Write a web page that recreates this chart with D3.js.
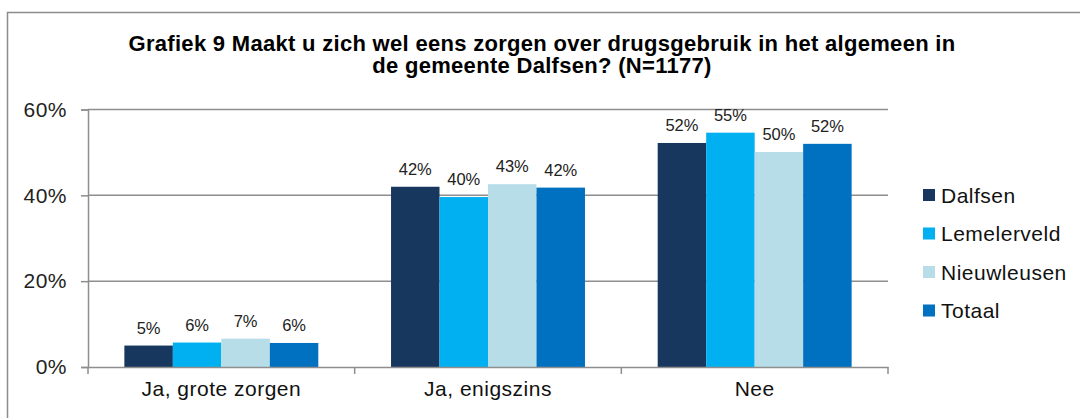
<!DOCTYPE html>
<html>
<head>
<meta charset="utf-8">
<script src="https://cdn.jsdelivr.net/npm/d3@7"></script>
<style>
  body { margin: 0; background: #fff; }
  svg { display: block; font-family: "Liberation Sans", Arial, sans-serif; }
</style>
</head>
<body>
<svg id="chart" width="1080" height="418"></svg>
<script>
// data
var titleLines = ["Grafiek 9 Maakt u zich wel eens zorgen over drugsgebruik in het algemeen in",
                  "de gemeente Dalfsen? (N=1177)"];
var categories = ["Ja, grote zorgen", "Ja, enigszins", "Nee"];
var seriesNames = ["Dalfsen", "Lemelerveld", "Nieuwleusen", "Totaal"];
var dalfsen = [5.0, 42.0, 52.2];
var lemelerveld = [5.7, 39.6, 54.6];
var nieuwleusen = [6.6, 42.6, 50.1];
var totaal = [5.6, 41.8, 52.0];
var yTicks = [0, 20, 40, 60];
var colors = ["#17375E", "#00B0F0", "#B7DEE8", "#0070C0"];

var seriesValues = [dalfsen, lemelerveld, nieuwleusen, totaal];

var svg = d3.select("#chart");

// outer frame
svg.append("rect")
	.attr("x", 7.5).attr("y", 12.5)
	.attr("width", 1100).attr("height", 420)
	.attr("fill", "none")
	.attr("stroke", "#8c8c8c")
	.attr("stroke-width", 1.5);

var plotLeft = 88, plotRight = 888, plotTop = 109.5, plotBottom = 367;

var x0 = d3.scaleBand().domain(categories).range([plotLeft, plotRight]);
var bw = x0.bandwidth();
var barW = bw / 5.5;
var x1 = d3.scaleBand().domain(seriesNames).range([barW * 0.75, bw - barW * 0.75]);
var y = d3.scaleLinear().domain([0, 60]).range([plotBottom, plotTop]);

// title
svg.append("g").selectAll("text")
	.data(titleLines)
	.enter().append("text")
	.attr("x", 542)
	.attr("y", function(d, i){ return 50.5 + i * 22; })
	.attr("text-anchor", "middle")
	.attr("font-size", 22)
	.attr("letter-spacing", 0.3)
	.attr("font-weight", "bold")
	.attr("fill", "#000")
	.text(function(d){ return d; });

// gridlines
svg.append("g").selectAll("line")
	.data(yTicks.filter(function(d){ return d > 0; }))
	.enter().append("line")
	.attr("x1", plotLeft).attr("x2", plotRight)
	.attr("y1", function(d){ return y(d); })
	.attr("y2", function(d){ return y(d); })
	.attr("stroke", "#8e8e8e")
	.attr("stroke-width", 1.5);

// bars
var groups = svg.append("g").selectAll("g")
	.data(seriesNames)
	.enter().append("g")
	.attr("fill", function(d, i){ return colors[i]; });

function rows(s, i){
	return categories.map(function(c, j){ return {series: s, cat: c, value: seriesValues[i][j]}; });
}

groups.selectAll("rect")
	.data(rows)
	.enter().append("rect")
	.attr("x", function(d){ return x0(d.cat) + x1(d.series); })
	.attr("y", function(d){ return y(d.value); })
	.attr("width", x1.bandwidth())
	.attr("height", function(d){ return y(0) - y(d.value); });

groups.selectAll("text")
	.data(rows)
	.enter().append("text")
	.attr("x", function(d){ return x0(d.cat) + x1(d.series) + x1.bandwidth() / 2; })
	.attr("y", function(d){ return y(d.value) - 12; })
	.attr("text-anchor", "middle")
	.attr("font-size", 16.5)
	.attr("fill", "#222")
	.text(function(d){ return Math.round(d.value) + "%"; });

// y axis
var yAxis = svg.append("g")
	.attr("transform", "translate(" + plotLeft + ",0)")
	.call(d3.axisLeft(y).tickValues(yTicks).tickSize(7).tickPadding(14)
		.tickFormat(function(d){ return d + "%"; }));
yAxis.select(".domain").attr("stroke", "#8e8e8e").attr("stroke-width", 1.5);
yAxis.selectAll(".tick line").attr("stroke", "#8e8e8e").attr("stroke-width", 1.5);
yAxis.selectAll(".tick text")
	.attr("font-size", 21)
	.attr("letter-spacing", 0.5)
	.attr("font-family", "Liberation Sans, Arial, sans-serif")
	.attr("fill", "#222");

// x axis
var xAxis = svg.append("g")
	.attr("transform", "translate(0," + plotBottom + ")")
	.call(d3.axisBottom(x0).tickSize(0).tickPadding(14));
xAxis.select(".domain").attr("stroke", "#8e8e8e").attr("stroke-width", 1.5);
xAxis.selectAll(".tick text")
	.attr("font-size", 21)
	.attr("letter-spacing", 0.5)
	.attr("font-family", "Liberation Sans, Arial, sans-serif")
	.attr("fill", "#111");
// category boundary ticks
xAxis.selectAll("line.sep")
	.data(categories.map(function(c){ return x0(c); }).concat([plotRight]))
	.enter().append("line")
	.attr("class", "sep")
	.attr("x1", function(d){ return d; }).attr("x2", function(d){ return d; })
	.attr("y1", 0).attr("y2", 7)
	.attr("stroke", "#8e8e8e")
	.attr("stroke-width", 1.5);

// legend
var legend = svg.append("g").selectAll("g")
	.data(seriesNames)
	.enter().append("g")
	.attr("transform", function(d, i){ return "translate(923," + (195 + i * 38.5) + ")"; });
legend.append("rect")
	.attr("x", 0).attr("y", -6)
	.attr("width", 12).attr("height", 12)
	.attr("fill", function(d, i){ return colors[i]; });
legend.append("text")
	.attr("x", 18).attr("y", 7.5)
	.attr("font-size", 21)
	.attr("letter-spacing", 0.5)
	.attr("fill", "#111")
	.text(function(d){ return d; });
</script>
</body>
</html>
